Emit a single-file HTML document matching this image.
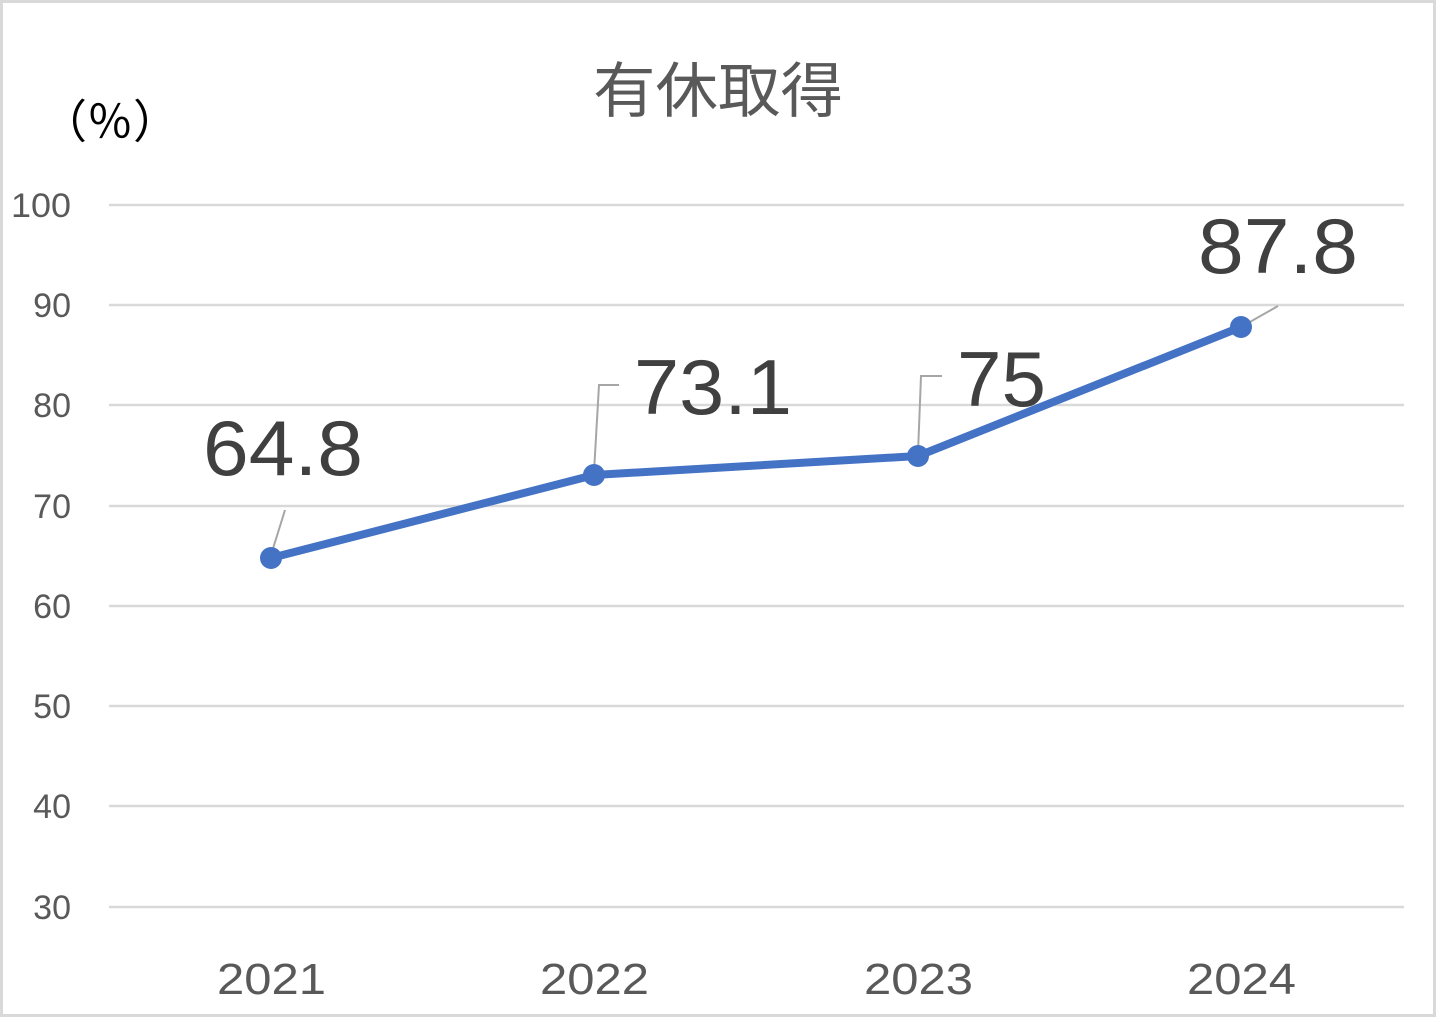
<!DOCTYPE html>
<html><head><meta charset="utf-8"><style>
html,body{margin:0;padding:0;background:#fff}
svg{display:block}
text{font-family:"Liberation Sans","Noto Sans CJK JP",sans-serif}
</style></head><body>
<svg width="1436" height="1017" viewBox="0 0 1436 1017" xmlns="http://www.w3.org/2000/svg">
<rect x="1.5" y="1.5" width="1433" height="1014" fill="#fff" stroke="#d9d9d9" stroke-width="3"/>
<text x="718" y="112" text-anchor="middle" font-size="60" fill="#595959" textLength="250" lengthAdjust="spacingAndGlyphs">有休取得</text>
<text x="110" y="138" text-anchor="middle" font-size="46" fill="#000">（％）</text>
<g stroke="#d9d9d9" stroke-width="2.5">
<line x1="109" x2="1404" y1="205" y2="205"/><line x1="109" x2="1404" y1="305" y2="305"/>
<line x1="109" x2="1404" y1="405" y2="405"/><line x1="109" x2="1404" y1="506" y2="506"/>
<line x1="109" x2="1404" y1="606" y2="606"/><line x1="109" x2="1404" y1="706" y2="706"/>
<line x1="109" x2="1404" y1="806" y2="806"/><line x1="109" x2="1404" y1="907" y2="907"/>
</g>
<g font-size="34" fill="#595959" text-anchor="end">
<text x="71" y="217" textLength="60" lengthAdjust="spacingAndGlyphs">100</text><text x="71" y="317">90</text><text x="71" y="417">80</text>
<text x="71" y="518">70</text><text x="71" y="618">60</text><text x="71" y="718">50</text>
<text x="71" y="818">40</text><text x="71" y="919">30</text>
</g>
<g font-size="44" fill="#595959">
<text x="217" y="994" textLength="109" lengthAdjust="spacingAndGlyphs">2021</text>
<text x="540" y="994" textLength="109" lengthAdjust="spacingAndGlyphs">2022</text>
<text x="864" y="994" textLength="109" lengthAdjust="spacingAndGlyphs">2023</text>
<text x="1187" y="994" textLength="109" lengthAdjust="spacingAndGlyphs">2024</text>
</g>
<g stroke="#a6a6a6" stroke-width="2" fill="none">
<polyline points="271,555 285,510"/>
<polyline points="594,472 599,385 619,385"/>
<polyline points="918,453 921,376 942,376"/>
<polyline points="1241,327 1278,306"/>
</g>
<polyline points="271,558 594,475 918,456 1241,327" fill="none" stroke="#4472c4" stroke-width="8" stroke-linejoin="round"/>
<g fill="#4472c4">
<circle cx="271" cy="558" r="11"/><circle cx="594" cy="475" r="11"/>
<circle cx="918" cy="456" r="11"/><circle cx="1241" cy="327" r="11"/>
</g>
<g font-size="78" fill="#404040">
<text x="203" y="475" textLength="160" lengthAdjust="spacingAndGlyphs">64.8</text>
<text x="634" y="414" textLength="158" lengthAdjust="spacingAndGlyphs">73.1</text>
<text x="957" y="406" textLength="89" lengthAdjust="spacingAndGlyphs">75</text>
<text x="1198" y="273" textLength="160" lengthAdjust="spacingAndGlyphs">87.8</text>
</g>
</svg>
</body></html>
